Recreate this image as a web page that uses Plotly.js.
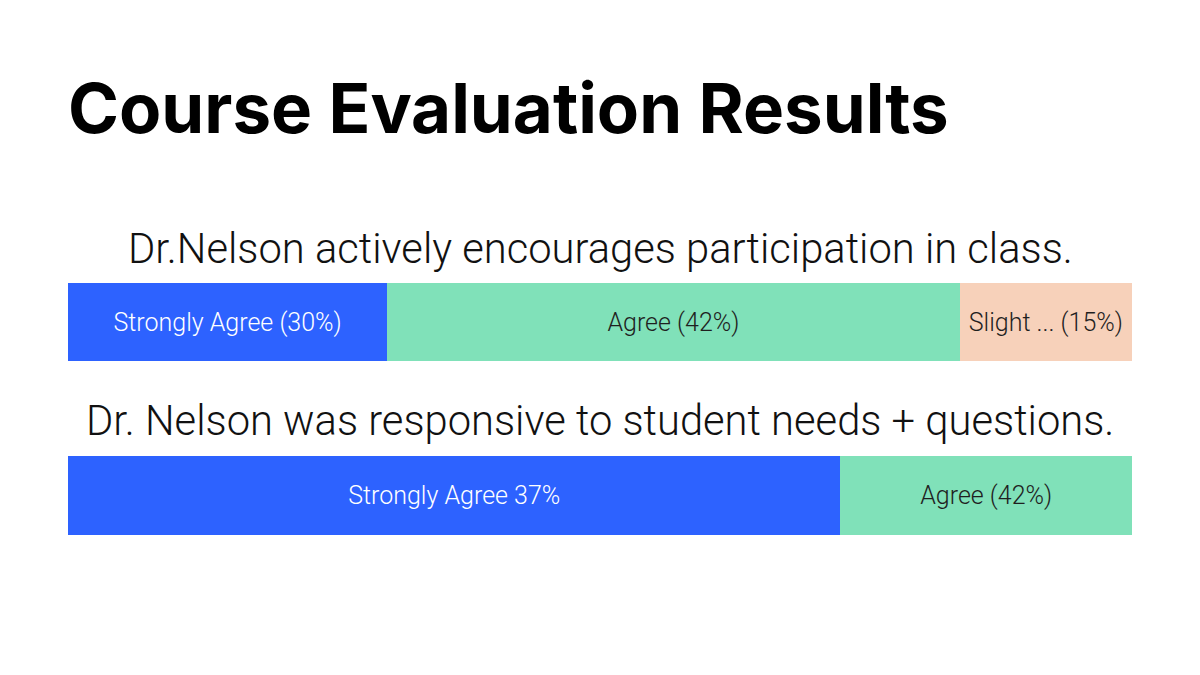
<!DOCTYPE html>
<html>
<head>
<meta charset="utf-8">
<script src="https://cdn.plot.ly/plotly-3.0.1.min.js"></script>
<style>html,body{margin:0;padding:0;background:#fff;}#chart{width:1200px;height:675px;}</style>
</head>
<body>
<div id="chart"></div>
<script>
const questions = ["Dr.Nelson actively encourages participation in class.", "Dr. Nelson was responsive to student needs + questions."];
const stronglyAgree = [30.0, 72.6];
const agree = [53.8, 27.4];
const slightlyAgree = [16.2, null];
const stronglyAgreeLabels = ["Strongly Agree (30%)", "Strongly Agree 37%"];
const agreeLabels = ["Agree (42%)", "Agree (42%)"];
const slightlyAgreeLabels = ["Slight ... (15%)", ""];

const labelFont = {family: "Roboto", weight: 300, size: 25};
function series(name, vals, labels, color, textColor) {
  return {
    type: "bar", orientation: "h", name: name,
    y: questions, x: vals, text: labels,
    textposition: "inside", insidetextanchor: "middle", constraintext: "none",
    textfont: Object.assign({}, labelFont, {color: textColor}),
    marker: {color: color, line: {width: 0}},
    width: 0.45, hoverinfo: "skip"
  };
}
const data = [
  series("Strongly Agree", stronglyAgree, stronglyAgreeLabels, "#2D62FF", "#ffffff"),
  series("Agree", agree, agreeLabels, "#80E1B9", "#1f1f1f"),
  series("Slightly Agree", slightlyAgree, slightlyAgreeLabels, "#F7D1BA", "#1f1f1f")
];
const subFont = {family: "Roboto", weight: 300, size: 41.7, color: "#111"};
const layout = {
  width: 1200, height: 675,
  margin: {l: 0, r: 0, t: 0, b: 0},
  paper_bgcolor: "#ffffff", plot_bgcolor: "#ffffff",
  barmode: "stack", showlegend: false,
  title: {text: "Course Evaluation Results", x: 68/1200, xanchor: "left", xref: "paper",
          y: 1 - 109/675, yanchor: "middle", yref: "paper",
          font: {family: "Inter", weight: 700, size: 69, color: "#000"}},
  xaxis: {domain: [68/1200, 1132/1200], range: [0, 100], visible: false, fixedrange: true},
  yaxis: {type: "category", range: [2.0346, -1.8559], visible: false, fixedrange: true},
  annotations: [
    {text: questions[0], xref: "paper", yref: "paper", x: 0.5, y: 1 - 248/675, xanchor: "center", yanchor: "middle", showarrow: false, font: subFont},
    {text: questions[1], xref: "paper", yref: "paper", x: 0.5, y: 1 - 420/675, xanchor: "center", yanchor: "middle", showarrow: false, font: subFont}
  ],
  hovermode: false
};
Plotly.newPlot("chart", data, layout, {displayModeBar: false, staticPlot: true});
</script>
</body>
</html>
